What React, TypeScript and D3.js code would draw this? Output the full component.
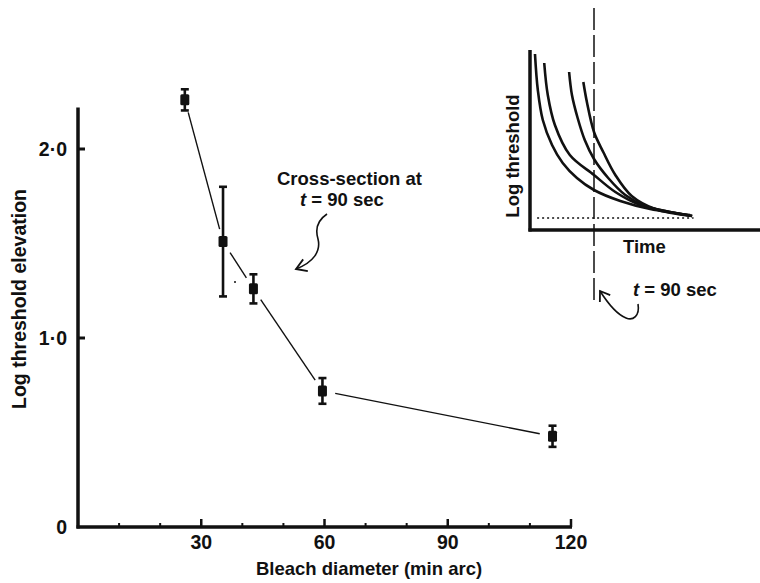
import React from "react";
import * as d3 from "d3";

// Main chart data
const diameters = [26, 35.3, 42.7, 59.5, 115.5];
const elevations = [2.26, 1.51, 1.26, 0.72, 0.48];
const errors = [0.056, 0.29, 0.077, 0.068, 0.056];

const xMinorTicks = [10, 20, 30, 40, 50, 60, 70, 80, 90, 100, 110, 120];
const xMajorTicks = [30, 60, 90, 120];
const yTicks = [0, 1, 2];
const yTickLabels = ["0", "1·0", "2·0"];

// Inset (schematic) curves: time (sec) vs log threshold (arbitrary log units)
const curve1T = [7, 11, 18, 31, 46, 66, 90, 127, 169, 225];
const curve1V = [1.76, 1.4, 1.1, 0.85, 0.67, 0.52, 0.4, 0.29, 0.21, 0.15];
const curve2T = [20, 25, 35, 56, 90, 120, 155, 190, 228];
const curve2V = [1.67, 1.35, 1.05, 0.75, 0.55, 0.38, 0.25, 0.19, 0.14];
const curve3T = [55, 59, 67, 77, 90, 110, 134, 162, 197, 228];
const curve3V = [1.58, 1.35, 1.12, 0.9, 0.71, 0.52, 0.35, 0.24, 0.18, 0.14];
const curve4T = [75, 80, 90, 103, 120, 143, 176, 228];
const curve4V = [1.48, 1.28, 0.98, 0.78, 0.55, 0.34, 0.21, 0.14];
const insetCurvesT = [curve1T, curve2T, curve3T, curve4T];
const insetCurvesV = [curve1V, curve2V, curve3V, curve4V];
const absoluteThreshold = 0.12;
const crossSectionTime = 90;

const FONT = "'Liberation Sans', Arial, Helvetica, sans-serif";
const INK = "#111";

export default function App() {
  const x = d3.scaleLinear().domain([0, 120]).range([78, 571]);
  const y = d3.scaleLinear().domain([0, 2]).range([527, 149]);
  const yTop = 2.22;

  const ix = d3.scaleLinear().domain([0, 90]).range([530, 594]);
  const iy = d3.scaleLinear().domain([0, 1]).range([230, 130]);

  const pts = diameters.map((d, i) => [x(d), y(elevations[i])] as [number, number]);
  const gap = 13;
  const segs = pts.slice(0, -1).map((p, i) => {
    const q = pts[i + 1];
    const dx = q[0] - p[0];
    const dy = q[1] - p[1];
    const L = Math.hypot(dx, dy);
    const ux = dx / L;
    const uy = dy / L;
    return [p[0] + ux * gap, p[1] + uy * gap, q[0] - ux * gap, q[1] - uy * gap];
  });

  const insetLine = d3
    .line<[number, number]>()
    .x((d) => ix(d[0]))
    .y((d) => iy(d[1]))
    .curve(d3.curveCatmullRom.alpha(0.5));

  const arrowHead = (tip: [number, number], from: [number, number], len = 11, ang = 0.5) => {
    const a = Math.atan2(from[1] - tip[1], from[0] - tip[0]);
    const p1 = [tip[0] + len * Math.cos(a + ang), tip[1] + len * Math.sin(a + ang)];
    const p2 = [tip[0] + len * Math.cos(a - ang), tip[1] + len * Math.sin(a - ang)];
    return `M${p1[0]},${p1[1]}L${tip[0]},${tip[1]}L${p2[0]},${p2[1]}`;
  };

  return (
    <svg
      width={760}
      height={583}
      style={{ position: "absolute", left: 0, top: 0, background: "#fff" }}
      fontFamily={FONT}
    >
      <rect width={760} height={583} fill="#fff" />

      {/* Main axes */}
      <line x1={x(0)} x2={x(0)} y1={y(yTop)} y2={y(0) + 1.5} stroke={INK} strokeWidth={3.5} />
      <line x1={x(0) - 1.5} x2={x(120) + 1} y1={y(0)} y2={y(0)} stroke={INK} strokeWidth={3.5} />
      {yTicks.filter((t) => t > 0).map((t) => (
        <line key={"yt" + t} x1={x(0)} x2={x(0) + 7} y1={y(t)} y2={y(t)} stroke={INK} strokeWidth={3} />
      ))}
      {yTicks.map((t, i) => (
        <text
          key={"yl" + t}
          x={67}
          y={y(t)}
          dy="0.36em"
          textAnchor="end"
          fontSize={19.5}
          fontWeight="bold"
          fill={INK}
        >
          {yTickLabels[i]}
        </text>
      ))}
      {xMinorTicks.map((t) => {
        const major = xMajorTicks.includes(t);
        return (
          <line
            key={"xt" + t}
            x1={x(t)}
            x2={x(t)}
            y1={y(0)}
            y2={y(0) - (major ? 8 : 4)}
            stroke={INK}
            strokeWidth={major ? 2.5 : 2}
          />
        );
      })}
      {xMajorTicks.map((t) => (
        <text
          key={"xl" + t}
          x={x(t)}
          y={549}
          textAnchor="middle"
          fontSize={19.5}
          fontWeight="bold"
          fill={INK}
        >
          {t}
        </text>
      ))}
      <text x={369} y={575} textAnchor="middle" fontSize={18.5} fontWeight="bold" fill={INK}>
        Bleach diameter (min arc)
      </text>
      <text
        transform={`translate(26,299) rotate(-90)`}
        textAnchor="middle"
        fontSize={19.5}
        fontWeight="bold"
        fill={INK}
      >
        Log threshold elevation
      </text>

      {/* Connecting lines */}
      {segs.map((s, i) => (
        <line key={"seg" + i} x1={s[0]} y1={s[1]} x2={s[2]} y2={s[3]} stroke={INK} strokeWidth={1.4} />
      ))}
      <circle cx={235} cy={282} r={1} fill={INK} />

      {/* Error bars and markers */}
      {diameters.map((d, i) => {
        const cx = x(d);
        const top = y(elevations[i] + errors[i]);
        const bot = y(elevations[i] - errors[i]);
        const cy = y(elevations[i]);
        return (
          <g key={"pt" + i}>
            <line x1={cx} x2={cx} y1={top} y2={bot} stroke={INK} strokeWidth={2.6} />
            <line x1={cx - 4} x2={cx + 4} y1={top} y2={top} stroke={INK} strokeWidth={2.6} />
            <line x1={cx - 4} x2={cx + 4} y1={bot} y2={bot} stroke={INK} strokeWidth={2.6} />
            <rect x={cx - 4.5} y={cy - 5.5} width={9} height={11} rx={1.5} fill={INK} />
          </g>
        );
      })}

      {/* Annotation: Cross-section */}
      <text x={277} y={185} fontSize={18.5} fontWeight="bold" fill={INK}>
        Cross-section at
      </text>
      <text x={300} y={206} fontSize={18.5} fontWeight="bold" fill={INK}>
        <tspan fontStyle="italic">t</tspan> = 90 sec
      </text>
      <path
        d="M327,214 C318,220 315,229 318,239 C321,251 314,262 296,269"
        fill="none"
        stroke={INK}
        strokeWidth={1.6}
      />
      <path d={arrowHead([296, 269], [306, 265], 12, 0.55)} fill="none" stroke={INK} strokeWidth={1.8} />

      {/* Inset */}
      <line x1={ix(0)} x2={ix(0)} y1={iy(1.8)} y2={iy(0) + 1.5} stroke={INK} strokeWidth={3.5} />
      <line x1={ix(0) - 1.5} x2={760} y1={iy(0)} y2={iy(0)} stroke={INK} strokeWidth={3.5} />
      <line
        x1={ix(10)}
        x2={ix(230)}
        y1={iy(absoluteThreshold)}
        y2={iy(absoluteThreshold)}
        stroke={INK}
        strokeWidth={1.5}
        strokeDasharray="2,3"
      />
      {insetCurvesT.map((ts, k) => (
        <path
          key={"ic" + k}
          d={insetLine(ts.map((t, j) => [t, insetCurvesV[k][j]] as [number, number])) || ""}
          fill="none"
          stroke={INK}
          strokeWidth={2.6}
        />
      ))}
      <line
        x1={ix(crossSectionTime)}
        x2={ix(crossSectionTime)}
        y1={iy(2.22)}
        y2={iy(-0.7)}
        stroke={INK}
        strokeWidth={1.5}
        strokeDasharray="22,5"
      />
      <text x={623} y={253} fontSize={18.5} fontWeight="bold" fill={INK}>
        Time
      </text>
      <text
        transform={`translate(519,156) rotate(-90)`}
        textAnchor="middle"
        fontSize={18.5}
        fontWeight="bold"
        fill={INK}
      >
        Log threshold
      </text>
      <text x={633} y={296} fontSize={18.5} fontWeight="bold" fill={INK}>
        <tspan fontStyle="italic">t</tspan> = 90 sec
      </text>
      <path
        d="M638,304 C640,316 633,321 626,318 C616,314 607,302 600,291"
        fill="none"
        stroke={INK}
        strokeWidth={1.6}
      />
      <path d={arrowHead([600, 291], [606, 300], 11, 0.6)} fill="none" stroke={INK} strokeWidth={1.8} />
    </svg>
  );
}
